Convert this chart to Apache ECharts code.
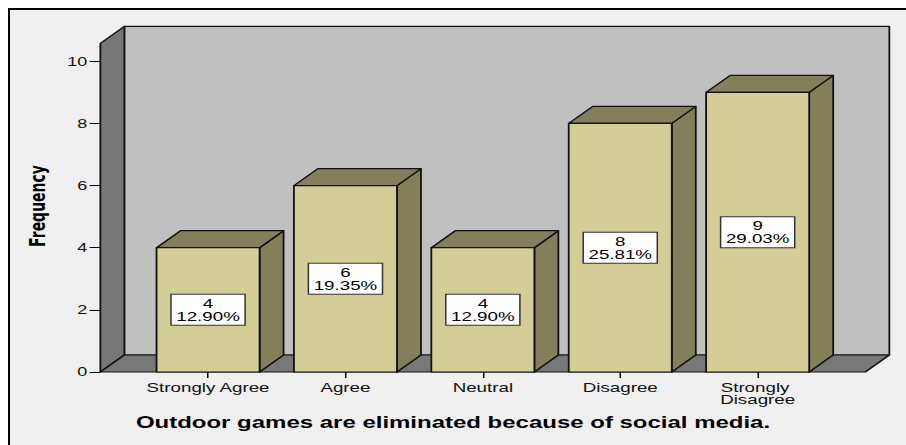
<!DOCTYPE html>
<html>
<head>
<meta charset="utf-8">
<script src="https://cdn.jsdelivr.net/npm/echarts@6.0.0/dist/echarts.min.js"></script>
<style>
  html, body { margin: 0; padding: 0; background: #fff; overflow: hidden; width: 906px; height: 445px; }
  #panel {
    position: absolute; left: 8px; top: 8px; width: 920px; height: 460px;
    background: #f0f0f0; border-left: 2px solid #000; border-top: 2px solid #000;
  }
  /* the chart is laid out at 2/3 width and widened horizontally */
  #chart {
    position: absolute; left: 0; top: 0; width: 604px; height: 445px;
    transform: scaleX(1.5); transform-origin: 0 0;
  }
</style>
</head>
<body>
<div id="panel"></div>
<div id="chart"></div>
<script>
// Survey responses (n = 31)
const categories = ['Strongly Agree', 'Agree', 'Neutral', 'Disagree', 'Strongly Disagree'];
const counts = [4, 6, 4, 8, 9];
const percents = [12.90, 19.35, 12.90, 25.81, 29.03];
const yTicks = [0, 2, 4, 6, 8, 10];

const chartTitle = 'Outdoor games are eliminated because of social media.';
const yTitle = 'Frequency';

// 3D look
const DX = 16, DY = 17;           // depth offset of the box
const SIDE = 26;                  // walls extend past the category band
const WALL_TOP = 18;              // wall rises above the top tick
const FRONT = '#d3cd97', SHADE = '#837f5a';
const BACK_WALL = '#c0c0c0', LEFT_WALL = '#767676', FLOOR = '#787878';
const OUTLINE = '#111';

const chart = echarts.init(document.getElementById('chart'), null, {
  renderer: 'svg', width: 604, height: 445
});

const barData = counts.map((v, i) => [i, v]);

function renderFrame(params, api) {
  const cs = params.coordSys;
  const x0 = cs.x - SIDE, x1 = cs.x + cs.width + SIDE;
  const yb = api.coord([0, yTicks[0]])[1];
  const yt = api.coord([0, yTicks[yTicks.length - 1]])[1] - WALL_TOP;
  const st = { stroke: OUTLINE, lineWidth: 1.2, lineJoin: 'round' };
  return {
    type: 'group',
    children: [
      { type: 'rect', shape: { x: x0 + DX, y: yt - DY, width: x1 - x0, height: yb - yt },
        style: Object.assign({ fill: BACK_WALL }, st) },
      { type: 'polygon', shape: { points: [[x0, yt], [x0 + DX, yt - DY], [x0 + DX, yb - DY], [x0, yb]] },
        style: Object.assign({ fill: LEFT_WALL }, st) },
      { type: 'polygon', shape: { points: [[x0, yb], [x1, yb], [x1 + DX, yb - DY], [x0 + DX, yb - DY]] },
        style: Object.assign({ fill: FLOOR }, st) }
    ]
  };
}

function renderBar(params, api) {
  const idx = api.value(0), val = api.value(1);
  const base = api.coord([idx, 0]);
  const top = api.coord([idx, val]);
  const mid = api.coord([idx, val / 2]);
  const w = api.size([1, 0])[0] * 0.75;
  const xl = base[0] - w / 2, xr = base[0] + w / 2;
  const yt = top[1], yb = base[1];
  const st = { stroke: OUTLINE, lineWidth: 1.2, lineJoin: 'round' };
  const i = params.dataIndex;
  return {
    type: 'group',
    children: [
      { type: 'polygon', shape: { points: [[xr, yt], [xr + DX, yt - DY], [xr + DX, yb - DY], [xr, yb]] },
        style: Object.assign({ fill: SHADE }, st) },
      { type: 'polygon', shape: { points: [[xl, yt], [xl + DX, yt - DY], [xr + DX, yt - DY], [xr, yt]] },
        style: Object.assign({ fill: SHADE }, st) },
      { type: 'rect', shape: { x: xl, y: yt, width: w, height: yb - yt },
        style: Object.assign({ fill: FRONT }, st) },
      { type: 'text', x: mid[0], y: mid[1],
        style: {
          text: counts[i] + '\n' + percents[i].toFixed(2) + '%',
          font: '12.5px "Liberation Sans", Arial, sans-serif',
          fill: '#000', align: 'center', verticalAlign: 'middle', lineHeight: 13,
          backgroundColor: '#fff', borderColor: '#333', borderWidth: 1, padding: [2, 3, 2, 3]
        } }
    ]
  };
}

chart.setOption({
  animation: false,
  backgroundColor: 'transparent',
  title: {
    text: chartTitle, left: 'center', top: 410,
    textStyle: { fontFamily: '"Liberation Sans", Arial, sans-serif', fontWeight: 'bold', fontSize: 16, color: '#000' }
  },
  graphic: [{
    type: 'text', x: 24.7, y: 206, rotation: Math.PI / 2,
    style: { text: yTitle, font: 'bold 14px "DejaVu Sans", sans-serif', fill: '#000', align: 'center', verticalAlign: 'middle' }
  }],
  grid: { left: 92.9, right: 53.1, top: 61.3, bottom: 73 },
  xAxis: {
    type: 'category', data: categories,
    axisLine: { show: false },
    axisTick: { show: true, alignWithLabel: true, length: 6, lineStyle: { color: '#000', width: 1 } },
    axisLabel: {
      margin: 9, color: '#111', fontSize: 12.5, lineHeight: 12.5,
      fontFamily: '"Liberation Sans", Arial, sans-serif',
      width: 90, overflow: 'break', interval: 0
    },
    splitLine: { show: false }
  },
  yAxis: {
    type: 'value', min: yTicks[0], max: yTicks[yTicks.length - 1], interval: 2,
    offset: 26.2,
    axisLine: { show: false },
    axisTick: { show: true, length: 7, lineStyle: { color: '#000', width: 1 } },
    axisLabel: { margin: 8.5, color: '#111', fontSize: 12, fontFamily: '"Liberation Sans", Arial, sans-serif' },
    splitLine: { show: false }
  },
  series: [
    { type: 'custom', name: 'frame', data: [[0, 0]], renderItem: renderFrame, z: 1, silent: true, clip: false },
    { type: 'custom', name: yTitle, data: barData, encode: { x: 0, y: 1 }, renderItem: renderBar, z: 2, silent: true, clip: false }
  ]
});
</script>
</body>
</html>
